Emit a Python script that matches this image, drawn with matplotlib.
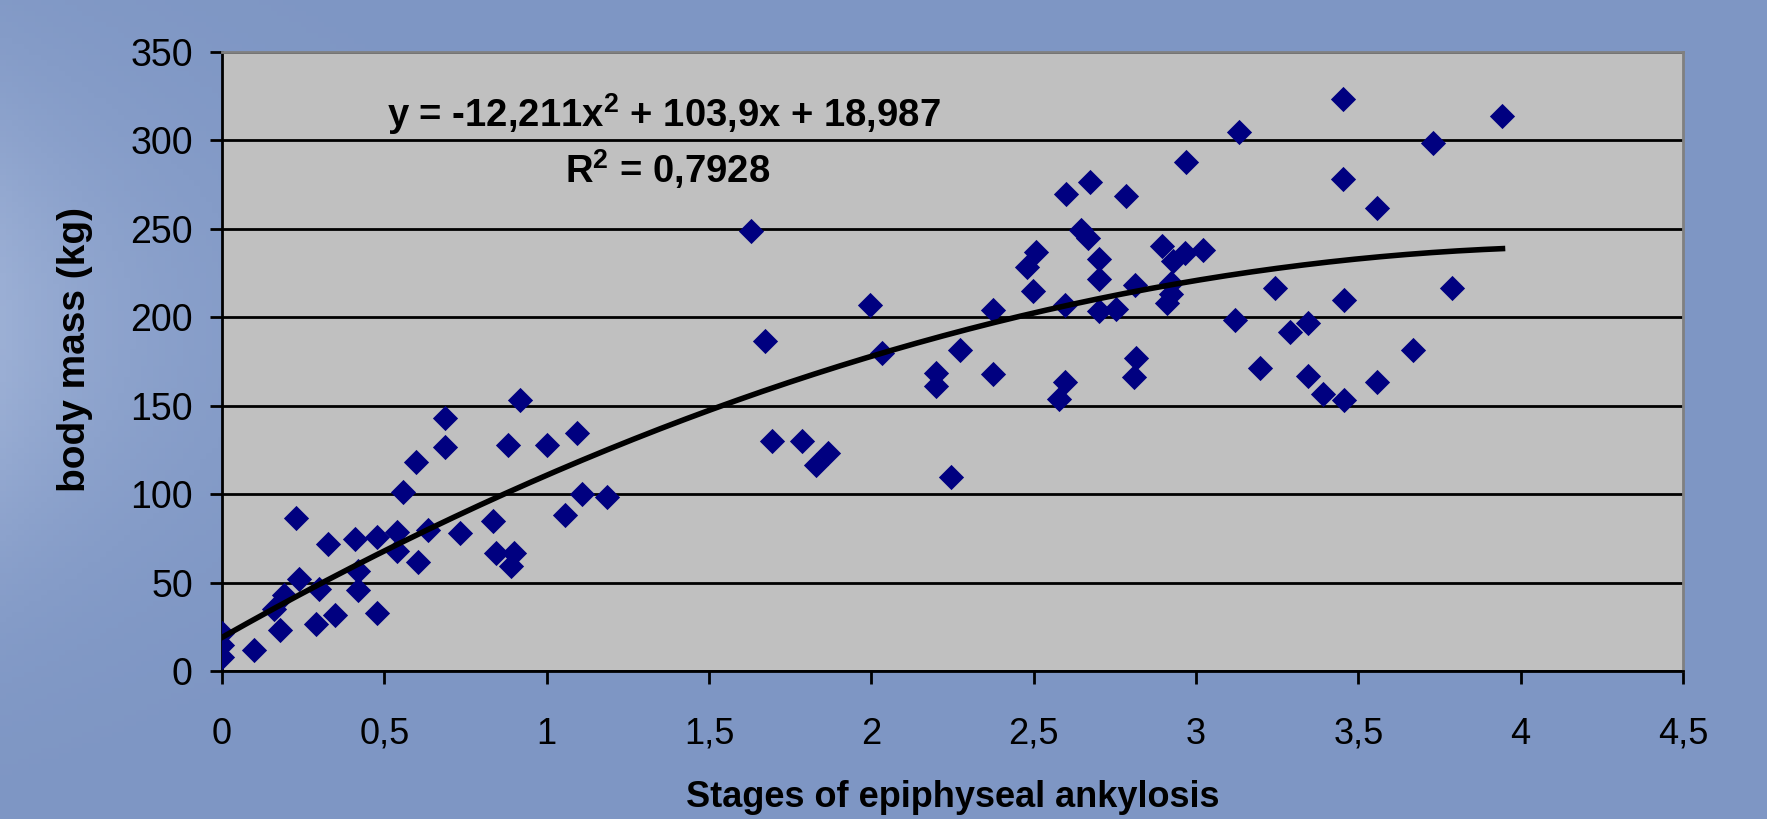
import numpy as np
import matplotlib.pyplot as plt

# stage of epiphyseal ankylosis vs body mass
stage = [0, 0, 0, 0.10, 0.16, 0.18, 0.19, 0.227, 0.237, 0.29, 0.30, 0.347,
         0.327, 0.41, 0.42, 0.42, 0.476, 0.476, 0.54, 0.54, 0.558, 0.604,
         0.596, 0.633, 0.687, 0.687, 0.734, 0.835, 0.843, 0.90, 0.89, 0.881,
         0.919, 1.0, 1.057, 1.092, 1.11, 1.186,
         1.629, 1.674, 1.693, 1.785, 1.83, 1.868, 1.997, 2.034, 2.2, 2.2,
         2.246, 2.274, 2.375, 2.375, 2.48, 2.507, 2.497, 2.599, 2.673, 2.784,
         2.646, 2.666, 2.701, 2.701, 2.597, 2.701, 2.755, 2.812, 2.816, 2.81,
         2.596, 2.578, 2.968, 2.894, 2.93, 2.966, 3.022, 2.922, 2.922, 2.912,
         3.12, 3.131, 3.196, 3.242, 3.288, 3.345, 3.345, 3.391, 3.455, 3.455,
         3.454, 3.454, 3.556, 3.556, 3.667, 3.731, 3.787, 3.944]
mass = [21.6, 14.5, 8, 12, 35, 23, 43, 86.6, 51.8, 26.5, 46.5, 31.4,
        71.7, 74.7, 56.3, 46, 76, 33, 78.7, 68, 101, 61.4,
        118, 79.7, 143, 126.4, 78, 84.7, 66.5, 66.5, 59.3, 128,
        153, 128, 88, 134.8, 99.8, 98.5,
        248.6, 186.6, 130, 130, 116.4, 123.3, 206.8, 180, 168.5, 161,
        109.8, 181.7, 204, 168, 228.4, 236.9, 214.9, 269.9, 276.7, 268.4,
        249.2, 245, 233.2, 221.9, 206.8, 203.4, 204.9, 218.5, 176.7, 166.3,
        163.4, 154, 287.7, 240.1, 231.8, 236.3, 238.2, 219.4, 213.4, 208.1,
        198.3, 305, 171.6, 216.8, 191.7, 196.8, 166.7, 156.5, 153, 210,
        278.3, 323.5, 261.8, 163.3, 181.5, 298.5, 216.8, 313.6]

# polynomial trend line coefficients as printed on the chart
trend_coef = [-12.211, 103.9, 18.987]
trend_label = 'y = -12,211x$^\\mathbf{2}$ + 103,9x + 18,987'
r2_label = 'R$^\\mathbf{2}$ = 0,7928'

x_ticks = [0, 0.5, 1, 1.5, 2, 2.5, 3, 3.5, 4, 4.5]
x_ticklabels = ['0', '0,5', '1', '1,5', '2', '2,5', '3', '3,5', '4', '4,5']
y_ticks = [0, 50, 100, 150, 200, 250, 300, 350]

plt.rcParams['font.family'] = ['Liberation Sans', 'DejaVu Sans']
plt.rcParams['mathtext.fontset'] = 'custom'
plt.rcParams['mathtext.bf'] = 'Liberation Sans:bold'
plt.rcParams['mathtext.rm'] = 'Liberation Sans:bold'

fig = plt.figure(figsize=(17.67, 8.19), dpi=100)

# blue slide background, a bit lighter toward the left edge
bg = fig.add_axes([0, 0, 1, 1], zorder=-1)
gx = np.linspace(0, 1, 300)
gy = np.linspace(0, 1, 150)
X, Y = np.meshgrid(gx, gy)
light = np.exp(-X / 0.1) * np.exp(-((Y - 0.6) / 0.3) ** 2) * 0.7
base = np.array([126, 150, 196]) / 255
hi = np.array([168, 186, 220]) / 255
img = base[None, None, :] * (1 - light[..., None]) + hi[None, None, :] * light[..., None]
bg.imshow(img, aspect='auto', extent=[0, 1, 0, 1], origin='lower')
bg.axis('off')

ax = fig.add_axes([222 / 1767, 1 - 671 / 819, 1461 / 1767, 619 / 819])
ax.set_facecolor('#c0c0c0')

ax.scatter(stage, mass, marker='D', s=165, color='#000080', zorder=3, linewidths=0)

tx = np.linspace(0, max(stage), 200)
ax.plot(tx, np.polyval(trend_coef, tx), color='black', lw=4, zorder=4)

ax.set_xlim(0, 4.5)
ax.set_ylim(0, 350)
ax.set_xticks(x_ticks)
ax.set_xticklabels(x_ticklabels)
ax.set_yticks(y_ticks)
ax.yaxis.grid(True, color='black', lw=2)
ax.set_axisbelow(True)

for side in ['left', 'bottom']:
    ax.spines[side].set_color('black')
    ax.spines[side].set_linewidth(2)
for side in ['top', 'right']:
    ax.spines[side].set_color('#808080')
    ax.spines[side].set_linewidth(2)

ax.tick_params(axis='x', direction='out', length=9, width=2, pad=24, labelsize=26)
ax.tick_params(axis='y', direction='out', length=9, width=2, pad=12, labelsize=27)

ax.set_xlabel('Stages of epiphyseal ankylosis', fontsize=26, fontweight='bold', va='center')
ax.set_ylabel('body mass (kg)', fontsize=28, fontweight='bold', va='center')
ax.xaxis.set_label_coords(0.5, -0.2036)
ax.yaxis.set_label_coords(-0.1006, 0.519)

ax.text(1.36, 315, trend_label, fontsize=27.5, fontweight='bold', ha='center', va='center')
ax.text(1.374, 284, r2_label, fontsize=27.5, fontweight='bold', ha='center', va='center')

plt.savefig('out.png', dpi=100)
